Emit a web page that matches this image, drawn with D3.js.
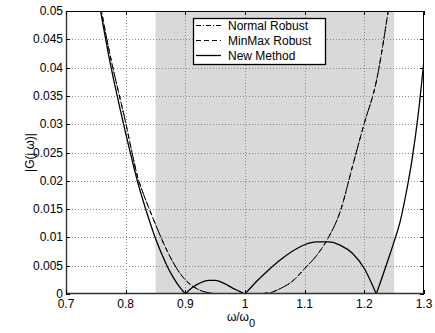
<!DOCTYPE html>
<html>
<head>
<meta charset="utf-8">
<script src="https://cdn.jsdelivr.net/npm/d3@7"></script>
<style>
  body { margin: 0; background: #fff; }
  text { font-family: "Liberation Sans", Arial, Helvetica, sans-serif; }
</style>
</head>
<body>
<div id="my_dataviz_gain"></div>
<script>
// frequency ratio w/w0 and |G(jw)|
const omegaNew = [0.75, 0.76, 0.77, 0.78, 0.79, 0.80, 0.81, 0.82, 0.83, 0.84, 0.85, 0.86, 0.87, 0.88, 0.89, 0.90,
  0.91, 0.92, 0.93, 0.94, 0.95, 0.96, 0.97, 0.98, 0.99, 1.00,
  1.02, 1.04, 1.06, 1.08, 1.10, 1.12, 1.14, 1.16, 1.18, 1.20, 1.22,
  1.23, 1.24, 1.25, 1.26, 1.27, 1.28, 1.29, 1.30];
const gainNew = [0.0550, 0.0488, 0.0430, 0.0378, 0.0330, 0.0284, 0.0240, 0.0198, 0.0162, 0.0129, 0.0098, 0.0072, 0.0048, 0.0029, 0.0013, 0,
  0.0010, 0.0017, 0.0022, 0.0024, 0.0024, 0.0021, 0.0016, 0.0010, 0.0005, 0,
  0.0023, 0.0043, 0.0061, 0.0076, 0.0087, 0.0092, 0.0092, 0.0086, 0.0072, 0.0045, 0,
  0.0030, 0.0061, 0.0093, 0.0128, 0.0178, 0.0238, 0.0315, 0.0413];

const omegaRobust = [0.75, 0.76, 0.77, 0.78, 0.79, 0.80, 0.81, 0.82, 0.83, 0.84, 0.85, 0.86, 0.87, 0.88, 0.89, 0.90,
  0.92, 0.94, 0.96, 0.98, 1.00, 1.02, 1.04, 1.06, 1.08, 1.10, 1.12, 1.14, 1.16, 1.18, 1.20, 1.22, 1.24, 1.25];
const gainNormalRobust = [0.0560, 0.0497, 0.0442, 0.0393, 0.0348, 0.0303, 0.0253, 0.0207, 0.0176, 0.0149, 0.0123, 0.0098, 0.0075, 0.0055, 0.0038, 0.0025,
  0.0009, 0.0002, 0.00003, 0, 0, 0.00005, 0.0002, 0.0010, 0.0023, 0.0045, 0.0068, 0.0100, 0.0147, 0.0225, 0.0302, 0.0375, 0.0500, 0.0570];
const gainMinMaxRobust = [0.0560, 0.0497, 0.0442, 0.0393, 0.0348, 0.0303, 0.0253, 0.0207, 0.0176, 0.0149, 0.0123, 0.0098, 0.0075, 0.0055, 0.0038, 0.0025,
  0.0009, 0.0002, 0.00003, 0, 0, 0.00005, 0.0002, 0.0010, 0.0023, 0.0045, 0.0068, 0.0100, 0.0147, 0.0225, 0.0302, 0.0375, 0.0500, 0.0570];

const bandRange = [0.85, 1.25];
const xTicks = [0.7, 0.8, 0.9, 1.0, 1.1, 1.2, 1.3];
const xTickLabels = ["0.7", "0.8", "0.9", "1", "1.1", "1.2", "1.3"];
const yTicks = [0, 0.005, 0.01, 0.015, 0.02, 0.025, 0.03, 0.035, 0.04, 0.045, 0.05];
const yTickLabels = ["0", "0.005", "0.01", "0.015", "0.02", "0.025", "0.03", "0.035", "0.04", "0.045", "0.05"];
const legendNames = ["Normal Robust", "MinMax Robust", "New Method"];

function generate_gain_plot(){
  const margin = {top: 11, right: 11, bottom: 39, left: 66},
      width = 435 - margin.left - margin.right,
      height = 333 - margin.top - margin.bottom;

  const svg = d3.select("#my_dataviz_gain")
    .append("svg")
      .attr("width", 435)
      .attr("height", 333)
    .append("g")
      .attr("transform", `translate(${margin.left}, ${margin.top})`);

  const x = d3.scaleLinear().domain([0.7, 1.3]).range([0, width]);
  const y = d3.scaleLinear().domain([0, 0.05]).range([height, 0]);

  svg.append("defs").append("clipPath").attr("id", "plotclip")
    .append("rect").attr("width", width).attr("height", height);

  // shaded band
  svg.append("rect")
    .attr("x", x(bandRange[0]))
    .attr("y", 0)
    .attr("width", x(bandRange[1]) - x(bandRange[0]))
    .attr("height", height)
    .style("fill", "#d9d9d9");

  // dotted grid
  svg.append("g").selectAll("line")
    .data(xTicks.slice(1, -1))
    .join("line")
      .attr("x1", d => Math.round(x(d)) + 0.5).attr("x2", d => Math.round(x(d)) + 0.5)
      .attr("y1", 0).attr("y2", height)
      .style("stroke", "#8a8a8a").style("stroke-dasharray", "1,2");
  svg.append("g").selectAll("line")
    .data(yTicks.slice(1, -1))
    .join("line")
      .attr("x1", 0).attr("x2", width)
      .attr("y1", d => Math.round(y(d)) + 0.5).attr("y2", d => Math.round(y(d)) + 0.5)
      .style("stroke", "#8a8a8a").style("stroke-dasharray", "1,2");

  // split a series where it touches zero with a cusp
  function segments(xs, ys) {
    const out = [];
    let cur = [];
    xs.forEach((w, i) => {
      cur.push({w: w, g: ys[i]});
      if (ys[i] === 0 && i > 0 && i < xs.length - 1 && ys[i-1] > 0.0003 && ys[i+1] > 0.0003) {
        out.push(cur);
        cur = [{w: w, g: ys[i]}];
      }
    });
    out.push(cur);
    return out;
  }

  const line = d3.line()
    .x(d => x(d.w))
    .y(d => y(d.g))
    .curve(d3.curveMonotoneX);

  const plot = svg.append("g").attr("clip-path", "url(#plotclip)");

  const series = [
    {name: legendNames[1], xs: omegaRobust, ys: gainMinMaxRobust, dash: "5,3", w: 1},
    {name: legendNames[0], xs: omegaRobust, ys: gainNormalRobust, dash: "5,2,1,2", w: 1},
    {name: legendNames[2], xs: omegaNew, ys: gainNew, dash: null, w: 1.3}
  ];

  series.forEach(s => {
    plot.selectAll(null)
      .data(segments(s.xs, s.ys))
      .join("path")
        .attr("d", d => line(d))
        .style("fill", "none")
        .style("stroke", "#000")
        .style("stroke-width", s.w)
        .style("stroke-dasharray", s.dash);
  });

  // box
  svg.append("rect")
    .attr("x", 0.5).attr("y", 0.5)
    .attr("width", width - 1).attr("height", height - 1)
    .style("fill", "none").style("stroke", "#000");
  // heavier left and bottom axis lines
  svg.append("line").attr("x1", 0).attr("x2", width).attr("y1", height - 0.5).attr("y2", height - 0.5)
    .style("stroke", "#333").style("stroke-width", 1.6);
  svg.append("line").attr("x1", 0.5).attr("x2", 0.5).attr("y1", 0).attr("y2", height)
    .style("stroke", "#333").style("stroke-width", 1.4);

  // inward ticks on all four sides
  const tk = 4;
  xTicks.forEach(t => {
    const px = Math.round(x(t)) + 0.5;
    svg.append("line").attr("x1", px).attr("x2", px).attr("y1", height).attr("y2", height - tk).style("stroke", "#000");
    svg.append("line").attr("x1", px).attr("x2", px).attr("y1", 0).attr("y2", tk).style("stroke", "#000");
  });
  yTicks.forEach(t => {
    const py = Math.round(y(t)) + 0.5;
    svg.append("line").attr("x1", 0).attr("x2", tk).attr("y1", py).attr("y2", py).style("stroke", "#000");
    svg.append("line").attr("x1", width).attr("x2", width - tk).attr("y1", py).attr("y2", py).style("stroke", "#000");
  });

  // tick labels
  svg.append("g").selectAll("text")
    .data(xTicks)
    .join("text")
      .attr("x", d => x(d))
      .attr("y", height + 14)
      .style("text-anchor", "middle")
      .style("font-size", "12px")
      .text((d, i) => xTickLabels[i]);
  svg.append("g").selectAll("text")
    .data(yTicks)
    .join("text")
      .attr("x", -3)
      .attr("y", d => y(d) + 4)
      .style("text-anchor", "end")
      .style("font-size", "12px")
      .text((d, i) => yTickLabels[i]);

  // axis labels
  const xl = svg.append("text")
    .attr("x", width / 2 - 4)
    .attr("y", height + 27)
    .style("text-anchor", "middle")
    .style("font-size", "12px");
  xl.append("tspan").text("ω/ω");
  xl.append("tspan").attr("dy", 6).style("font-size", "11px").text("0");

  svg.append("text")
    .attr("transform", "rotate(-90)")
    .attr("x", -height / 2)
    .attr("y", -32)
    .style("text-anchor", "middle")
    .style("font-size", "12px")
    .text("|G(j ω)|");

  // legend
  const lg = svg.append("g").attr("transform", `translate(${193 - margin.left}, ${18 - margin.top})`);
  lg.append("rect")
    .attr("x", 0.5).attr("y", 0.5)
    .attr("width", 132).attr("height", 46)
    .style("fill", "#fff").style("stroke", "#000").style("stroke-width", 1.3);
  const legendDash = ["5,2,1,2", "5,3", null];
  legendNames.forEach((n, i) => {
    const ly = 7.5 + i * 15;
    lg.append("line")
      .attr("x1", 3).attr("x2", 28)
      .attr("y1", ly).attr("y2", ly)
      .style("stroke", "#000")
      .style("stroke-width", i === 2 ? 1.3 : 1)
      .style("stroke-dasharray", legendDash[i]);
    lg.append("text")
      .attr("x", 35).attr("y", ly + 4.5)
      .style("font-size", "12px")
      .text(n);
  });
}

generate_gain_plot();
</script>
</body>
</html>
